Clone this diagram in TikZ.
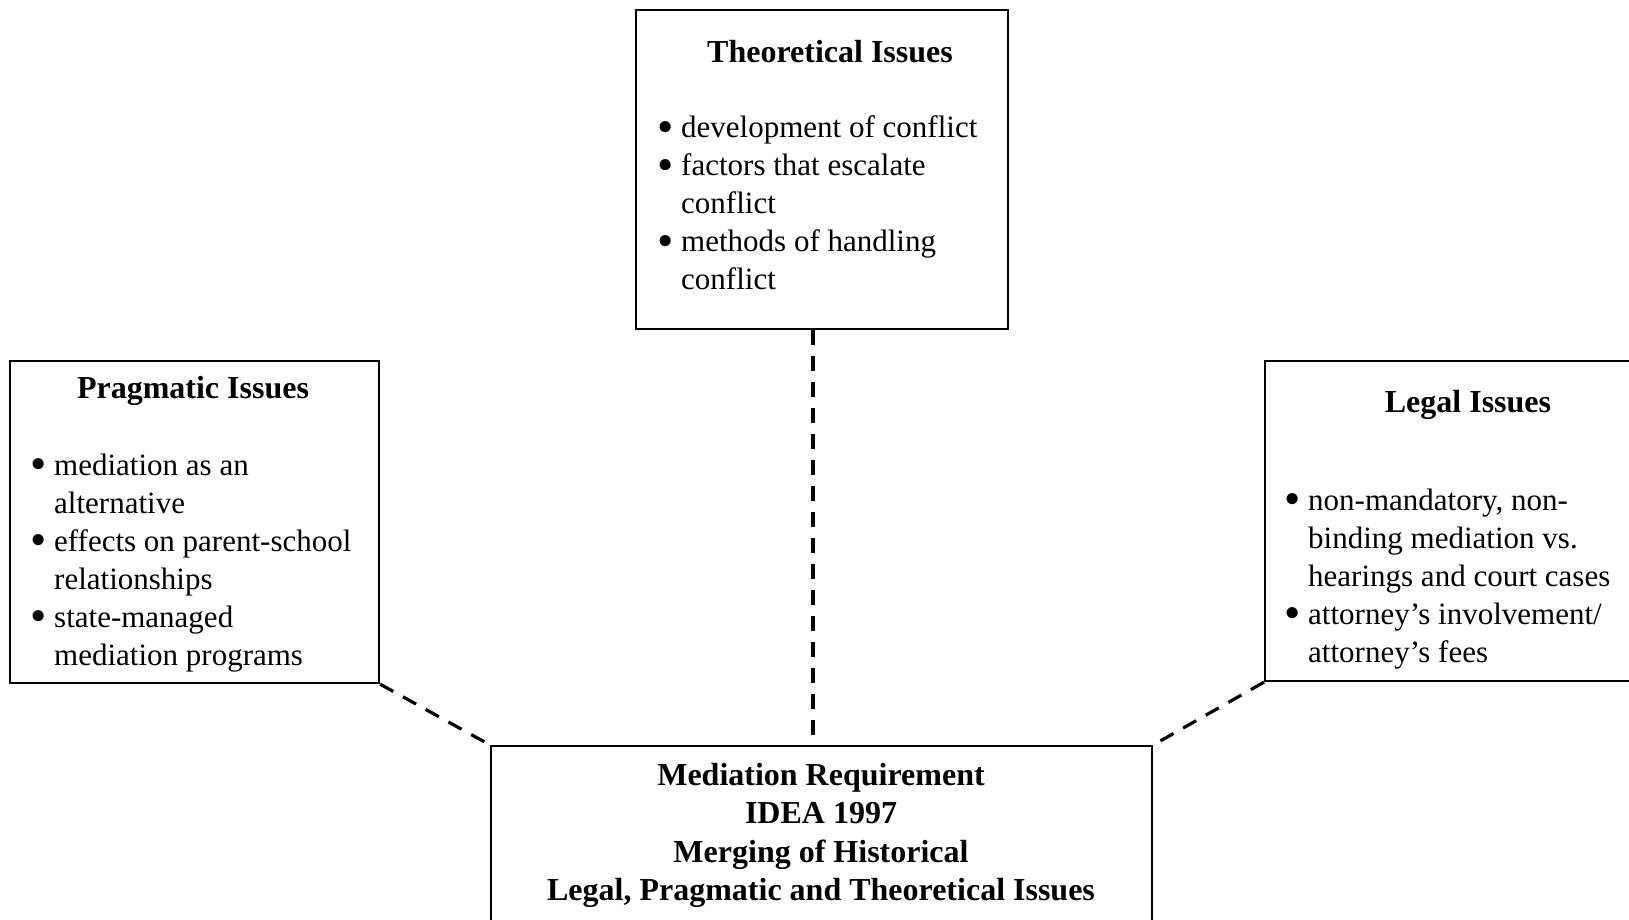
\documentclass[tikz,border=0pt]{standalone}
\usepackage{fontspec}
\setmainfont{Liberation Serif}
\newcommand{\bl}{\makebox[24pt][l]{\raisebox{-4.5pt}{\scalebox{1.5}{\textbullet}}}}
\newcommand{\ind}{\hspace*{24pt}}
\begin{document}
\begin{tikzpicture}[x=1pt,y=-1pt,
  boxst/.style={draw, line width=2.2pt, rectangle, inner sep=0pt, anchor=north west},
  titlest/.style={inner sep=0pt, anchor=base, font=\fontsize{32}{38}\selectfont\bfseries},
  listst/.style={inner sep=0pt, anchor=base west, font=\fontsize{31}{38}\selectfont},
  centst/.style={inner sep=0pt, anchor=base, font=\fontsize{32}{38.5}\selectfont\bfseries},
  dashln/.style={line width=3.2pt, dash pattern=on 15pt off 11pt}]
\fill[white] (0,0) rectangle (1629,920);
\useasboundingbox (0,0) rectangle (1629,920);

% boxes
\node[boxst, minimum width=372pt, minimum height=319pt] (theo) at (635,9) {};
\node[boxst, minimum width=369pt, minimum height=322pt] (prag) at (9,360) {};
\node[boxst, minimum width=420pt, minimum height=320pt] (legal) at (1264,360) {};
\node[boxst, minimum width=661pt, minimum height=260pt] (med) at (490,745) {};

% titles
\node[titlest] (theot) at (830,63) {Theoretical Issues};
\node[titlest] (pragt) at (193,398) {Pragmatic Issues};
\node[titlest] (legalt) at (1468,412) {Legal Issues};

% lists
\node[listst] (theol) at (657,138) {\begin{tabular}[t]{@{}l@{}}
\bl development of conflict\\
\bl factors that escalate\\
\ind conflict\\
\bl methods of handling\\
\ind conflict
\end{tabular}};
\node[listst] (pragl) at (30,475) {\begin{tabular}[t]{@{}l@{}}
\bl mediation as an\\
\ind alternative\\
\bl effects on parent-school\\
\ind relationships\\
\bl state-managed\\
\ind mediation programs
\end{tabular}};
\node[listst] (legall) at (1284,510) {\begin{tabular}[t]{@{}l@{}}
\bl non-mandatory, non-\\
\ind binding mediation vs.\\
\ind hearings and court cases\\
\bl attorney’s involvement/\\
\ind attorney’s fees
\end{tabular}};

% center text
\node[centst] (medt) at (821,785) {\begin{tabular}[t]{@{}c@{}}
Mediation Requirement\\
IDEA 1997\\
Merging of Historical\\
Legal, Pragmatic and Theoretical Issues
\end{tabular}};

% connectors
\coordinate (vx) at (813,0);
\draw[dashln] (vx |- theo.south) -- (vx |- med.north);
\draw[dashln] (prag.south east) -- (med.north west);
\draw[dashln] (legal.south west) -- (med.north east);
\end{tikzpicture}
\end{document}
